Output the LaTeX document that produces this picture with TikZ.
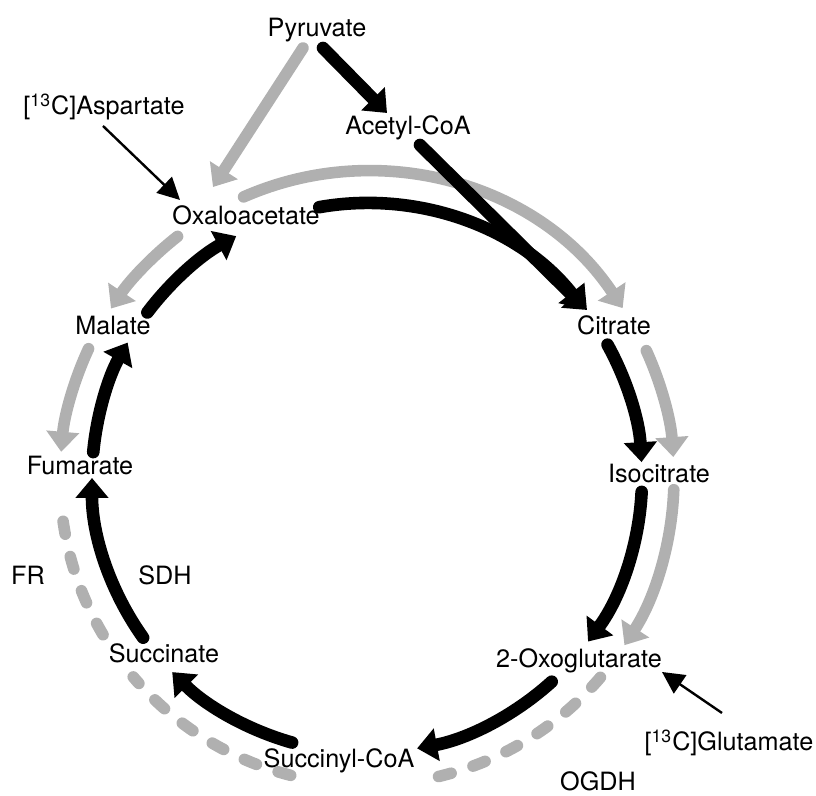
\documentclass[tikz,border=0pt]{standalone}
\usepackage{fontspec}
\setmainfont{TeX Gyre Heros}
\usetikzlibrary{arrows.meta, calc}
\definecolor{pathgray}{gray}{0.69}

\tikzset{
    metab/.style={anchor=base, inner sep=0pt, font=\fontsize{12.6}{14}\selectfont},
    fwd/.style={line width=6.3pt, line cap=round, -{Triangle[width=16pt,length=10pt]}},
    rev/.style={line width=5.8pt, line cap=round, color=pathgray, -{Triangle[width=16pt,length=10pt]}},
    revdash/.style={line width=5.8pt, line cap=round, color=pathgray, dash pattern=on 6.5pt off 11.5pt},
    feed/.style={line width=1.2pt, -{Triangle[width=11pt,length=11pt]}}
}

\begin{document}
\begin{tikzpicture}[x=0.5pt, y=0.5pt]
    \useasboundingbox (0,0) rectangle (816,796);
    \coordinate (c) at (367,318);
    % Metabolites
    \node[metab] (pyr) at (317,759) {Pyruvate};
    \node[metab] (asp) at (104,681) {[\textsuperscript{13}C]Aspartate};
    \node[metab] (acoa) at (408,661) {Acetyl-CoA};
    \node[metab] (oaa) at (246,571) {Oxaloacetate};
    \node[metab] (cit) at (614,461) {Citrate};
    \node[metab] (mal) at (113,461) {Malate};
    \node[metab] (fum) at (80,321) {Fumarate};
    \node[metab] (isoc) at (659,313) {Isocitrate};
    \node[metab] (fr) at (28,211) {FR};
    \node[metab] (sdh) at (165,211) {SDH};
    \node[metab] (succ) at (164,133) {Succinate};
    \node[metab] (oxo) at (579,128) {2-Oxoglutarate};
    \node[metab] (glu) at (729,45) {[\textsuperscript{13}C]Glutamate};
    \node[metab] (scoa) at (339,28) {Succinyl-CoA};
    \node[metab] (ogdh) at (598,5) {OGDH};
    % Outer (grey) ring
    \foreach \a/\b in {113.7/33.6, 24.5/3.9, -2.2/-33, 155.1/175.1, 128.1/146.5}
        \draw[rev] ($(c)+(\a:307)$) arc[start angle=\a, end angle=\b, radius=307];
    \foreach \a/\b in {-40.5/-76.7, -104.4/-139.6, -149.3/-175.4}
        \draw[revdash] ($(c)+(\a:307)$) arc[start angle=\a, end angle=\b, radius=307];
    \draw[rev] ($(pyr.base)+(-14,-11)$) -- ($(oaa.base)+(-33,38)$);
    % Inner (black) ring
    \foreach \a/\b in {100/38, 29/3.3, -2.9/-36.5, -47.8/-79.5, -105.8/-135.1, -144.5/-180, 174.6/150.5, 143/118.4}
        \draw[fwd] ($(c)+(\a:275)$) arc[start angle=\a, end angle=\b, radius=275];
    \draw[fwd] ($(pyr.base)+(6,-11)$) -- ($(acoa.base)+(-21,22)$);
    \draw[fwd] ($(acoa.base)+(12,-10)$) -- ($(cit.base)+(-27,25)$);
    % Labelled substrates
    \draw[feed] ($(asp.base)+(-1,-11)$) -- ($(oaa.base)+(-66,25)$);
    \draw[feed] ($(glu.base)+(-7,38)$) -- ($(oxo.base)+(83,-4)$);
\end{tikzpicture}
\end{document}
